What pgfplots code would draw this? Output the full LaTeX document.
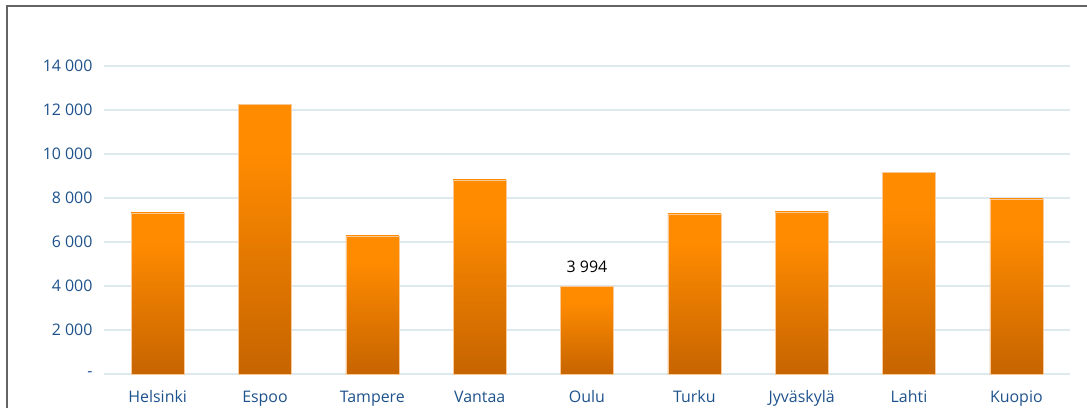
\documentclass[border=0pt]{standalone}
\usepackage{fontspec}
\setmainfont{Open Sans}
\usepackage{pgfplots}
\pgfplotsset{compat=1.18}
\definecolor{tickblue}{RGB}{30,82,140}
\definecolor{gridc}{RGB}{221,233,238}
\definecolor{bartop}{RGB}{255,139,0}
\definecolor{barbot}{RGB}{198,100,0}
\definecolor{baredge}{RGB}{248,200,150}
\definecolor{framec}{RGB}{100,100,100}
\pgfdeclareverticalshading{barshade}{100bp}{color(0bp)=(barbot); color(25bp)=(barbot); color(66bp)=(bartop); color(100bp)=(bartop)}
\begin{document}
\begin{tikzpicture}[x=1bp,y=1bp]
\useasboundingbox (0,0) rectangle (1087,408);
\draw[line width=1.5bp, color=framec] (7,0) -- (7,402) -- (1087,402);
\begin{axis}[
  at={(104bp,34bp)}, anchor=south west,
  scale only axis, width=966bp, height=308bp,
  xmin=-0.5, xmax=8.5, ymin=0, ymax=14000,
  scaled y ticks=false,
  axis line style={draw=none},
  major tick length=0pt,
  ymajorgrids, grid style={gridc, line width=1.2bp},
  ytick={0,2000,4000,6000,8000,10000,12000,14000},
  yticklabels={-,2 000,4 000,6 000,8 000,10 000,12 000,14 000},
  xtick={0,...,8},
  xticklabels={Helsinki,Espoo,Tampere,Vantaa,Oulu,Turku,Jyväskylä,Lahti,Kuopio},
  yticklabel style={font=\fontsize{16}{19}\selectfont, color=tickblue, anchor=east, xshift=-8bp},
  xticklabel style={font=\fontsize{16}{19}\selectfont, color=tickblue, anchor=base, yshift=-28bp},
  clip=false,
  barsty/.style={ybar, bar width=53bp, bar shift=0pt, draw=baredge, line width=0.6bp, shading=barshade},
]
\addplot[barsty] coordinates {(0,7320)};
\addplot[barsty] coordinates {(1,12270)};
\addplot[barsty] coordinates {(2,6280)};
\addplot[barsty] coordinates {(3,8820)};
\addplot[barsty] coordinates {(4,3994)};
\addplot[barsty] coordinates {(5,7280)};
\addplot[barsty] coordinates {(6,7370)};
\addplot[barsty] coordinates {(7,9150)};
\addplot[barsty] coordinates {(8,7960)};
\addplot[draw=none, mark=none, nodes near coords={3 994},
  every node near coord/.append style={font=\fontsize{16}{19}\selectfont, color=black, anchor=base, yshift=14bp}]
  coordinates {(4,3994)};
\end{axis}
\end{tikzpicture}
\end{document}
